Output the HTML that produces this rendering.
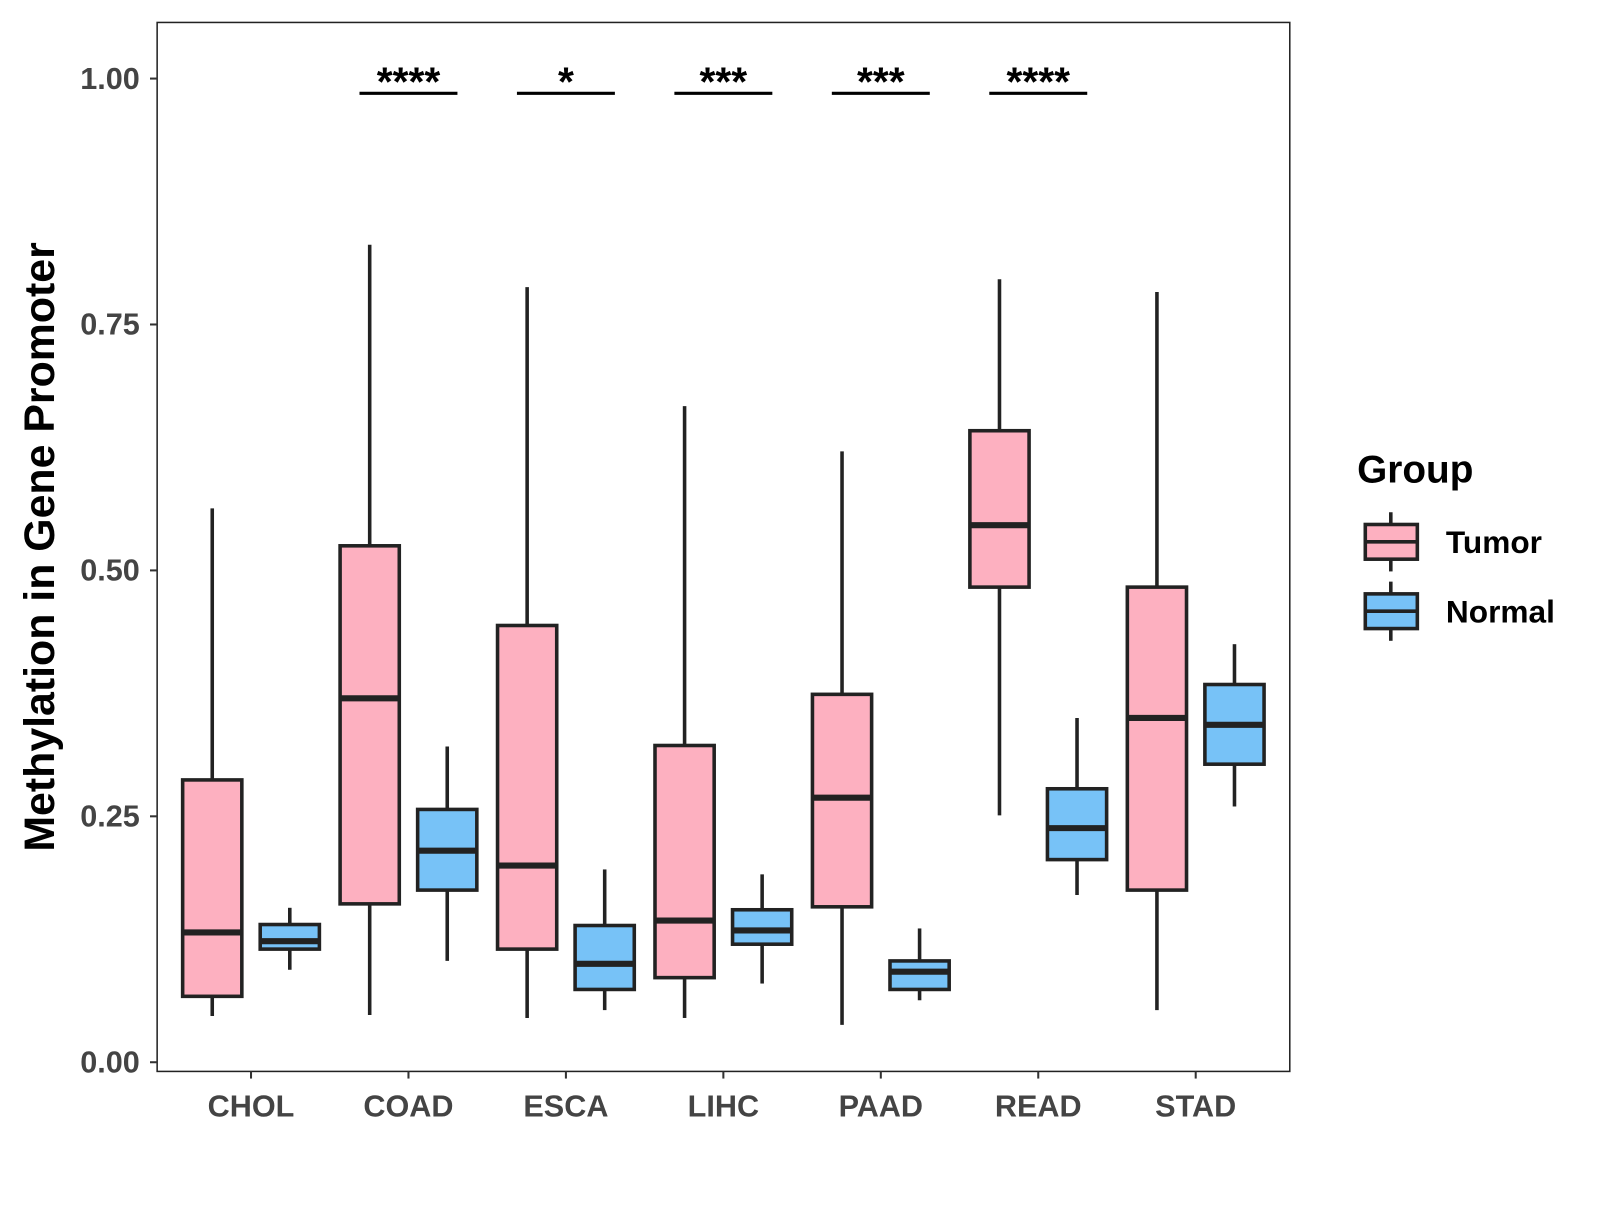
<!DOCTYPE html>
<html><head><meta charset="utf-8"><style>
body{margin:0;background:#fff}
svg text{font-family:"Liberation Sans",Arial,sans-serif;font-weight:bold}
</style></head><body>
<svg width="1600" height="1200" viewBox="0 0 1600 1200"><g id="chart" transform="scale(1.0204)"></g></svg>
<script>
const categories=["CHOL","COAD","ESCA","LIHC","PAAD","READ","STAD"];
// [low, q1, median, q3, high]
const tumorStats=[[0.047,0.067,0.132,0.287,0.563],[0.048,0.161,0.370,0.525,0.831],[0.045,0.115,0.200,0.444,0.788],[0.045,0.086,0.144,0.322,0.667],[0.038,0.158,0.269,0.374,0.621],[0.251,0.483,0.546,0.642,0.796],[0.053,0.175,0.350,0.483,0.783]];
const normalStats=[[0.094,0.115,0.123,0.140,0.157],[0.103,0.175,0.215,0.257,0.321],[0.053,0.074,0.100,0.139,0.196],[0.080,0.120,0.134,0.155,0.191],[0.063,0.074,0.092,0.103,0.136],[0.170,0.206,0.238,0.278,0.350],[0.260,0.303,0.343,0.384,0.425]];
const signif=["","****","*","***","***","****",""];
const yTicks=[0,0.25,0.5,0.75,1.0];
const yTickLabels=["0.00","0.25","0.50","0.75","1.00"];

const svg=document.getElementById('chart');
const NS="http://www.w3.org/2000/svg";
function mk(tag,attrs,parent){const e=document.createElementNS(NS,tag);for(const k in attrs)e.setAttribute(k,attrs[k]);(parent||svg).appendChild(e);return e;}
const y=v=>1041-v*964;
const x=i=>246+i*154.3;

const panel=mk('rect',{x:154,y:22,width:1110,height:1028,fill:'none',stroke:'#222','stroke-width':1.5});



yTicks.forEach((t,i)=>{
  const l=mk('line',{x1:147,x2:154,y1:y(t),y2:y(t),stroke:'#333','stroke-width':2});
  
  
  const tx=mk('text',{x:137,y:y(t)+10,'text-anchor':'end','font-size':30,fill:'#444'});
  tx.textContent=yTickLabels[i];
  
  
});
const yt=mk('text',{transform:'translate(53,536) rotate(-90)','text-anchor':'middle','font-size':42,fill:'#000'});
yt.textContent='Methylation in Gene Promoter';



function box(cx,s,fill,name){
  const g=mk('g',{});
  
  
  mk('line',{x1:cx,x2:cx,y1:y(s[4]),y2:y(s[3]),stroke:'#222','stroke-width':3.5},g);
  mk('line',{x1:cx,x2:cx,y1:y(s[1]),y2:y(s[0]),stroke:'#222','stroke-width':3.5},g);
  mk('rect',{x:cx-29,y:y(s[3]),width:58,height:y(s[1])-y(s[3]),fill:fill,stroke:'#222','stroke-width':3.5},g);
  mk('line',{x1:cx-29,x2:cx+29,y1:y(s[2]),y2:y(s[2]),stroke:'#222','stroke-width':6},g);
}
categories.forEach((c,i)=>{
  const cx=x(i);
  box(cx-38,tumorStats[i],'#FDB0C0','tumor-box-'+c.toLowerCase());
  box(cx+38,normalStats[i],'#77C2F7','normal-box-'+c.toLowerCase());
  const tk=mk('line',{x1:cx,x2:cx,y1:1050,y2:1057,stroke:'#333','stroke-width':2});
  
  
  const lb=mk('text',{x:cx,y:1094,'text-anchor':'middle','font-size':30,fill:'#444'});
  lb.textContent=c;
  
  
  if(signif[i]){
    const sl=mk('line',{x1:cx-48,x2:cx+48,y1:y(0.985),y2:y(0.985),stroke:'#000','stroke-width':3});
    
    
    const st=mk('text',{x:cx,y:y(0.985)+2,'text-anchor':'middle','font-size':40,fill:'#000'});
    st.textContent=signif[i];
    
    
  }
});

const lg=mk('g',{});


const lt=mk('text',{x:1330,y:473,'font-size':38,fill:'#000'},lg);
lt.textContent='Group';
[['Tumor','#FDB0C0',531],['Normal','#77C2F7',599]].forEach(([n,f,cy])=>{
  const e=mk('g',{},lg);
  
  
  mk('line',{x1:1363,x2:1363,y1:cy-29,y2:cy+29,stroke:'#222','stroke-width':3.5},e);
  mk('rect',{x:1338,y:cy-17,width:51,height:34,fill:f,stroke:'#222','stroke-width':3.5},e);
  mk('line',{x1:1338,x2:1389,y1:cy,y2:cy,stroke:'#222','stroke-width':3.5},e);
  const t=mk('text',{x:1417,y:cy+11,'font-size':31,fill:'#000'},e);
  t.textContent=n;
});
</script>
</body></html>
